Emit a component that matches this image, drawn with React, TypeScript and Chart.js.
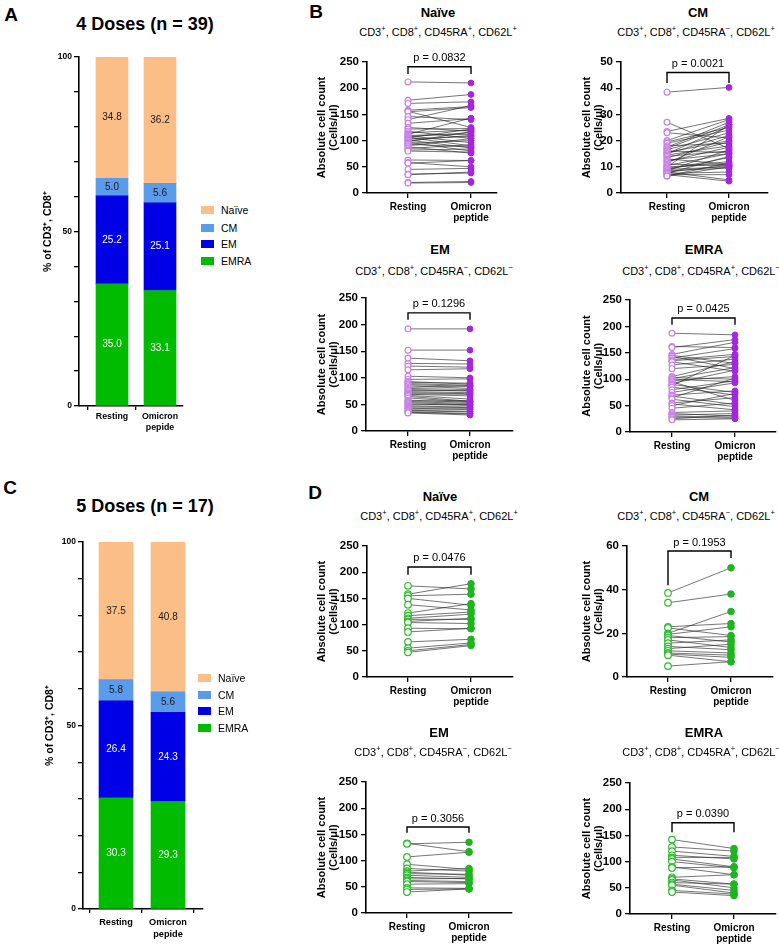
import React, { useEffect, useRef } from 'react';
import { Chart, registerables } from 'chart.js';

Chart.register(...registerables);

const FONT = '"Liberation Sans", Arial, Helvetica, sans-serif';
Chart.defaults.font.family = FONT;
Chart.defaults.color = '#000';

// ---------- A / C : share of CD3+, CD8+ subsets (%) ----------
const subsetNames = ['Naïve', 'CM', 'EM', 'EMRA'];
const subsetColors = ['#FBBE86', '#5A9CEB', '#0000E6', '#00BB00'];
const subsetTextColors = ['#1a1a1a', '#1a1a1a', '#ffffff', '#ffffff'];
const barTickLabels = ['Resting', ['Omicron', 'pepide']];

const dose4Naive = [34.8, 36.2];
const dose4CM = [5.0, 5.6];
const dose4EM = [25.2, 25.1];
const dose4EMRA = [35.0, 33.1];

const dose5Naive = [37.5, 40.8];
const dose5CM = [5.8, 5.6];
const dose5EM = [26.4, 24.3];
const dose5EMRA = [30.3, 29.3];

// ---------- B / D : paired absolute counts (cells/µl) ----------
const pairedTickLabels = ['Resting', ['Omicron', 'peptide']];

const dose4NaiveResting = [212, 177, 171, 158, 156, 155, 146, 140, 133, 125, 122, 118, 115, 112, 110, 109, 108, 106, 105, 103, 101, 100, 98, 97, 95, 93, 90, 88, 85, 82, 80, 63, 58, 57, 45, 36, 35, 20, 19];
const dose4NaiveOmicron = [210, 188, 174, 165, 125, 163, 140, 167, 142, 118, 123, 104, 120, 143, 112, 96, 115, 90, 122, 108, 86, 110, 117, 80, 100, 88, 104, 76, 92, 84, 78, 62, 50, 62, 47, 38, 40, 22, 20];

const dose4CMResting = [38.5, 27, 23.5, 23, 20, 19.5, 19, 18, 17.5, 17, 16.5, 16, 15.5, 15, 15, 14.5, 14, 13.5, 13, 12.5, 12, 11.5, 11, 10.5, 10, 10, 9.5, 9, 9, 8.5, 8.5, 8, 8, 7.5, 7.5, 7, 7, 6.5, 6.5];
const dose4CMOmicron = [40.3, 17, 28.5, 21, 28, 25, 24, 19, 27, 26, 23, 15.5, 20, 22, 25.5, 18, 16, 19.5, 11, 15, 17.5, 21.5, 10.5, 15, 26, 11, 12, 10, 13.5, 9.5, 16.5, 5, 10.5, 8, 14, 7, 4.5, 10, 11.5];

const dose4EMResting = [192, 152, 137, 127, 122, 115, 103, 97, 93, 91, 89, 87, 85, 82, 80, 78, 76, 74, 72, 70, 69, 67, 65, 62, 58, 56, 55, 53, 51, 49, 47, 45, 43, 41, 39, 38, 36, 35, 34];
const dose4EMOmicron = [192, 152, 132, 126, 120, 117, 100, 98, 88, 90, 86, 84, 80, 85, 78, 75, 76, 72, 70, 69, 66, 60, 56, 55, 54, 57, 52, 50, 48, 50, 45, 44, 40, 42, 37, 36, 33, 32, 30];

const dose4EMRAResting = [187, 162, 160, 147, 145, 143, 140, 137, 135, 133, 127, 120, 105, 103, 101, 100, 97, 95, 92, 90, 88, 85, 80, 75, 70, 68, 65, 62, 55, 53, 50, 45, 37, 35, 32, 30, 28, 25, 23];
const dose4EMRAOmicron = [184, 160, 175, 170, 130, 120, 158, 147, 143, 115, 138, 128, 133, 100, 122, 95, 105, 60, 117, 75, 145, 70, 97, 93, 78, 52, 102, 48, 65, 42, 73, 55, 40, 30, 35, 28, 26, 32, 25];

const dose5NaiveResting = [174, 158, 155, 150, 138, 122, 117, 112, 110, 106, 104, 93, 86, 67, 55, 50, 47];
const dose5NaiveOmicron = [168, 178, 158, 137, 128, 140, 124, 120, 110, 112, 102, 92, 93, 72, 65, 62, 60];

const dose5CMResting = [38.5, 34, 23, 22.5, 20, 19.5, 19, 18, 17, 15.5, 14, 13, 12, 11, 10.5, 10, 5];
const dose5CMOmicron = [50, 38, 24.5, 19, 30, 23, 16, 18.5, 13.5, 17, 12.5, 15, 11, 10, 9, 7, 7];

const dose5EMResting = [133, 132, 107, 93, 85, 80, 78, 75, 72, 68, 65, 62, 60, 55, 48, 45, 40];
const dose5EMOmicron = [117, 135, 116, 83, 80, 85, 72, 74, 68, 65, 66, 60, 58, 56, 47, 46, 46];

const dose5EMRAResting = [142, 128, 120, 112, 108, 105, 100, 90, 88, 70, 67, 65, 60, 57, 55, 45, 42];
const dose5EMRAOmicron = [125, 120, 110, 105, 108, 90, 88, 75, 90, 75, 57, 50, 57, 45, 40, 38, 35];

const dose4PValues = ['0.0832', '0.0021', '0.1296', '0.0425'];
const dose5PValues = ['0.0476', '0.1953', '0.3056', '0.0390'];
const dose4AxisMax = [250, 50, 250, 250];
const dose4AxisStep = [50, 10, 50, 50];
const dose5AxisMax = [250, 60, 250, 250];
const dose5AxisStep = [50, 20, 50, 50];
// bracket: [top, left leg end, right leg end] in data units
const dose4Brackets = [[241, 227, 227], [46, 42, 42], [222, 209, 209], [216, 203, 203]];
const dose5Brackets = [[210, 195, 195], [57.7, 42, 54.5], [164, 153, 153], [174, 156, 156]];

const Y_W = 62;
const X_H = 34;
const PAD_T = 16;
const PAD_R = 6;

const axisStyle = (tickLength: number) => ({
  grid: { drawOnChartArea: false, color: '#000', lineWidth: 1.3, tickLength },
  border: { color: '#000', width: 1.6 },
});

type Box = { axisX: number; top: number; bottom: number; end: number; restX: number; omiX: number; titleX: number };

function PairedPlot(props: {
  resting: number[]; omicron: number[]; p: string; yMax: number; yStep: number;
  bracket: number[]; open: string; fill: string; radius: number; box: Box;
}) {
  const { resting, omicron, p, yMax, yStep, bracket, open, fill, radius, box } = props;
  const ref = useRef<HTMLCanvasElement>(null);
  const left = box.axisX - Y_W;
  const top = box.top - PAD_T;
  const width = box.end - left + PAD_R;
  const height = box.bottom - top + X_H;

  useEffect(() => {
    if (!ref.current) return;
    const gap = box.omiX - box.restX;
    const xMin = -(box.restX - box.axisX) / gap;
    const xMax = 1 + (box.end - box.omiX) / gap;

    const lines = resting.map((r, i) => ({
      data: [{ x: 0, y: r }, { x: 1, y: omicron[i] }],
      showLine: true,
      borderColor: 'rgba(40,40,40,0.8)',
      borderWidth: 0.8,
      pointRadius: 0,
      pointHoverRadius: 0,
      order: 2,
    }));

    const bracketPlugin = {
      id: 'pBracket',
      afterDatasetsDraw(chart: any) {
        const { ctx, scales } = chart;
        const x0 = scales.x.getPixelForValue(0);
        const x1 = scales.x.getPixelForValue(1);
        const yt = scales.y.getPixelForValue(bracket[0]);
        const yl = scales.y.getPixelForValue(bracket[1]);
        const yr = scales.y.getPixelForValue(bracket[2]);
        ctx.save();
        ctx.strokeStyle = '#000';
        ctx.lineWidth = 1.4;
        ctx.beginPath();
        ctx.moveTo(x0, yl);
        ctx.lineTo(x0, yt);
        ctx.lineTo(x1, yt);
        ctx.lineTo(x1, yr);
        ctx.stroke();
        ctx.fillStyle = '#000';
        ctx.font = `11px ${FONT}`;
        ctx.textAlign = 'center';
        ctx.textBaseline = 'bottom';
        ctx.fillText(`p = ${p}`, (x0 + x1) / 2, yt - 3);
        ctx.restore();
      },
    };

    const titlePad = box.titleX - left - 6;

    const chart = new Chart(ref.current, {
      type: 'scatter',
      data: {
        datasets: [
          {
            data: omicron.map(v => ({ x: 1, y: v })),
            pointRadius: radius,
            pointBackgroundColor: fill,
            pointBorderColor: fill,
            pointBorderWidth: 1,
            order: 0,
          },
          {
            data: resting.map(v => ({ x: 0, y: v })),
            pointRadius: radius,
            pointBackgroundColor: '#ffffff',
            pointBorderColor: open,
            pointBorderWidth: 1.2,
            order: 1,
          },
          ...lines,
        ] as any,
      },
      options: {
        animation: false,
        responsive: false,
        events: [],
        layout: { padding: { top: PAD_T, right: PAD_R, left: 0, bottom: 0 } },
        plugins: { legend: { display: false }, tooltip: { enabled: false } },
        scales: {
          x: {
            type: 'linear',
            min: xMin,
            max: xMax,
            afterBuildTicks: (s: any) => { s.ticks = [{ value: 0 }, { value: 1 }]; },
            afterFit: (s: any) => { s.height = X_H; },
            ticks: {
              callback: (v: any) => (v === 0 ? pairedTickLabels[0] : pairedTickLabels[1]) as any,
              font: { size: 10, weight: 'bold', lineHeight: 1.15 },
              color: '#000',
              padding: 3,
              maxRotation: 0,
              autoSkip: false,
            },
            ...axisStyle(5),
          },
          y: {
            min: 0,
            max: yMax,
            afterFit: (s: any) => { s.width = Y_W; },
            ticks: { stepSize: yStep, font: { size: 11.5, weight: 'bold' }, color: '#000', padding: 3 },
            title: {
              display: true,
              text: ['Absolute cell count', '(Cells/μl)'],
              font: { size: 11, weight: 'bold', lineHeight: 1.1 },
              color: '#000',
              padding: { top: titlePad, bottom: 0 },
            },
            ...axisStyle(5),
          },
        } as any,
      },
      plugins: [bracketPlugin],
    });
    return () => chart.destroy();
  }, []);

  return (
    <canvas ref={ref} width={width} height={height}
      style={{ position: 'absolute', left, top, width, height }} />
  );
}

type BarBox = { axisX: number; top: number; bottom: number; end: number; restX: number; omiX: number; barW: number; titleX: number; tickSize: number; tickPad: number };

function StackedBars(props: { naive: number[]; cm: number[]; em: number[]; emra: number[]; box: BarBox }) {
  const { naive, cm, em, emra, box } = props;
  const ref = useRef<HTMLCanvasElement>(null);
  const BW = 40;
  const left = box.axisX - BW;
  const top = box.top - 8;
  const width = box.end - left + 4;
  const height = box.bottom - top + 34;

  useEffect(() => {
    if (!ref.current) return;
    const gap = box.omiX - box.restX;
    const xMin = -(box.restX - box.axisX) / gap;
    const xMax = 1 + (box.end - box.omiX) / gap;
    // bottom -> top : EMRA, EM, CM, Naïve
    const series = [emra, em, cm, naive];
    const order = [3, 2, 1, 0];
    const datasets = series.map((vals, k) => ({
      label: subsetNames[order[k]],
      data: vals.map((v, i) => ({ x: i, y: v })),
      backgroundColor: subsetColors[order[k]],
      borderWidth: 0,
      barThickness: box.barW,
    }));

    const labelPlugin = {
      id: 'segLabels',
      afterDatasetsDraw(chart: any) {
        const { ctx } = chart;
        ctx.save();
        ctx.font = `10px ${FONT}`;
        ctx.textAlign = 'center';
        ctx.textBaseline = 'middle';
        chart.data.datasets.forEach((ds: any, di: number) => {
          const meta = chart.getDatasetMeta(di);
          meta.data.forEach((bar: any, i: number) => {
            const { x, y, base } = bar.getProps(['x', 'y', 'base'], true);
            ctx.fillStyle = subsetTextColors[order[di]];
            ctx.fillText(ds.data[i].y.toFixed(1), x, (y + base) / 2);
          });
        });
        ctx.restore();
      },
    };

    const lh = 10.5 * 1.2;
    const titlePad = box.titleX - left - lh / 2;

    const chart = new Chart(ref.current, {
      type: 'bar',
      data: { datasets: datasets as any },
      options: {
        animation: false,
        responsive: false,
        events: [],
        layout: { padding: { top: 8, right: 4, left: 0, bottom: 0 } },
        plugins: { legend: { display: false }, tooltip: { enabled: false } },
        scales: {
          x: {
            type: 'linear',
            stacked: true,
            offset: false,
            min: xMin,
            max: xMax,
            afterBuildTicks: (s: any) => { s.ticks = [{ value: 0 }, { value: 1 }]; },
            afterFit: (s: any) => { s.height = 34; },
            ticks: {
              callback: (v: any) => (v === 0 ? barTickLabels[0] : barTickLabels[1]) as any,
              font: { size: box.tickSize, weight: 'bold', lineHeight: 1.25 },
              color: '#000',
              padding: box.tickPad,
              maxRotation: 0,
              autoSkip: false,
            },
            ...axisStyle(4),
          },
          y: {
            stacked: true,
            min: 0,
            max: 100,
            afterFit: (s: any) => { s.width = BW; },
            ticks: {
              stepSize: 10,
              autoSkip: false,
              callback: (v: any) => (v % 50 === 0 ? String(v) : ''),
              font: { size: 8.5, weight: 'bold' },
              color: '#000',
              padding: 2,
            },
            title: {
              display: true,
              text: '% of CD3⁺, CD8⁺',
              font: { size: 10.5, weight: 'bold', lineHeight: 1.2 },
              color: '#000',
              padding: { top: titlePad, bottom: 0 },
            },
            ...axisStyle(5),
          },
        } as any,
      },
      plugins: [labelPlugin],
    });
    return () => chart.destroy();
  }, []);

  return (
    <canvas ref={ref} width={width} height={height}
      style={{ position: 'absolute', left, top, width, height }} />
  );
}

const Text = (p: { x: number; y: number; size: number; bold?: boolean; children: React.ReactNode }) => (
  <div style={{
    position: 'absolute', left: p.x - 200, top: p.y - p.size * 0.6, width: 400,
    textAlign: 'center', fontSize: p.size, lineHeight: `${p.size * 1.2}px`,
    fontWeight: p.bold ? 700 : 400, fontFamily: FONT, whiteSpace: 'nowrap', color: '#000',
  }}>{p.children}</div>
);

const sup = (s: string) => <sup style={{ fontSize: '0.68em', lineHeight: 0 }}>{s}</sup>;
const markerLine = (ra: string, l: string) => (
  <>CD3{sup('+')}, CD8{sup('+')}, CD45RA{sup(ra)}, CD62L{sup(l)}</>
);

const Legend = (p: { x: number; ys: number[] }) => (
  <>
    {subsetNames.map((name, i) => (
      <div key={name} style={{ position: 'absolute', left: p.x, top: p.ys[i] - 7, height: 14, display: 'flex', alignItems: 'center', fontFamily: FONT, fontSize: 10.5 }}>
        <span style={{ display: 'inline-block', width: 13, height: 8, background: subsetColors[i], marginRight: 7 }} />
        {name}
      </div>
    ))}
  </>
);

const panelNames = ['Naïve', 'CM', 'EM', 'EMRA'];
const panelMarkers: [string, string][] = [['+', '+'], ['−', '+'], ['−', '−'], ['+', '−']];

export default function App() {
  const dose4Sets = [
    [dose4NaiveResting, dose4NaiveOmicron],
    [dose4CMResting, dose4CMOmicron],
    [dose4EMResting, dose4EMOmicron],
    [dose4EMRAResting, dose4EMRAOmicron],
  ];
  const dose5Sets = [
    [dose5NaiveResting, dose5NaiveOmicron],
    [dose5CMResting, dose5CMOmicron],
    [dose5EMResting, dose5EMOmicron],
    [dose5EMRAResting, dose5EMRAOmicron],
  ];

  const boxesB: Box[] = [
    { axisX: 367, top: 62, bottom: 193, end: 497, restX: 408, omiX: 471, titleX: 322 },
    { axisX: 621, top: 62, bottom: 193, end: 768, restX: 667, omiX: 729, titleX: 587 },
    { axisX: 366, top: 298, bottom: 431, end: 513, restX: 408, omiX: 470, titleX: 322 },
    { axisX: 630, top: 300, bottom: 432, end: 776, restX: 672, omiX: 735, titleX: 587 },
  ];
  const boxesD: Box[] = [
    { axisX: 367, top: 546, bottom: 677, end: 513, restX: 408, omiX: 471, titleX: 322 },
    { axisX: 627, top: 546, bottom: 677, end: 773, restX: 668, omiX: 731, titleX: 587 },
    { axisX: 366, top: 782, bottom: 913, end: 512, restX: 407, omiX: 469, titleX: 322 },
    { axisX: 630, top: 783, bottom: 914, end: 776, restX: 672, omiX: 734, titleX: 587 },
  ];
  const titlesB = [[438, 13, 438, 33], [698, 13, 696, 33], [440, 250, 434, 272], [704, 250, 701, 272]];
  const titlesD = [[440, 497, 439, 517], [699, 497, 696, 517], [439, 733, 433, 753], [704, 733, 701, 753]];

  return (
    <div style={{ position: 'absolute', left: 0, top: 0, width: 779, height: 945, background: '#fff', overflow: 'hidden' }}>
      <Text x={11} y={15} size={19} bold>A</Text>
      <Text x={145} y={25} size={18} bold>4 Doses (n = 39)</Text>
      <StackedBars naive={dose4Naive} cm={dose4CM} em={dose4EM} emra={dose4EMRA}
        box={{ axisX: 79, top: 57, bottom: 406, end: 183, restX: 112, omiX: 160, barW: 32, titleX: 48, tickSize: 8.8, tickPad: 1 }} />
      <Legend x={201} ys={[210, 228, 244, 261]} />

      <Text x={10} y={488} size={19} bold>C</Text>
      <Text x={145} y={507} size={18} bold>5 Doses (n = 17)</Text>
      <StackedBars naive={dose5Naive} cm={dose5CM} em={dose5EM} emra={dose5EMRA}
        box={{ axisX: 83, top: 542, bottom: 909, end: 203, restX: 116, omiX: 168, barW: 34, titleX: 50, tickSize: 9.2, tickPad: 4 }} />
      <Legend x={198} ys={[678, 695, 711, 728]} />

      <Text x={316} y={12} size={19} bold>B</Text>
      <Text x={315} y={493} size={19} bold>D</Text>

      {panelNames.map((name, i) => (
        <React.Fragment key={'b' + name}>
          <Text x={titlesB[i][0]} y={titlesB[i][1]} size={13} bold>{name}</Text>
          <Text x={titlesB[i][2]} y={titlesB[i][3]} size={11}>{markerLine(panelMarkers[i][0], panelMarkers[i][1])}</Text>
          <PairedPlot resting={dose4Sets[i][0]} omicron={dose4Sets[i][1]} p={dose4PValues[i]}
            yMax={dose4AxisMax[i]} yStep={dose4AxisStep[i]} bracket={dose4Brackets[i]}
            open="#C880E6" fill="#A526DE" radius={2.9} box={boxesB[i]} />
        </React.Fragment>
      ))}
      {panelNames.map((name, i) => (
        <React.Fragment key={'d' + name}>
          <Text x={titlesD[i][0]} y={titlesD[i][1]} size={13} bold>{name}</Text>
          <Text x={titlesD[i][2]} y={titlesD[i][3]} size={11}>{markerLine(panelMarkers[i][0], panelMarkers[i][1])}</Text>
          <PairedPlot resting={dose5Sets[i][0]} omicron={dose5Sets[i][1]} p={dose5PValues[i]}
            yMax={dose5AxisMax[i]} yStep={dose5AxisStep[i]} bracket={dose5Brackets[i]}
            open="#2DBB2D" fill="#1FB51F" radius={3.3} box={boxesD[i]} />
        </React.Fragment>
      ))}
    </div>
  );
}
